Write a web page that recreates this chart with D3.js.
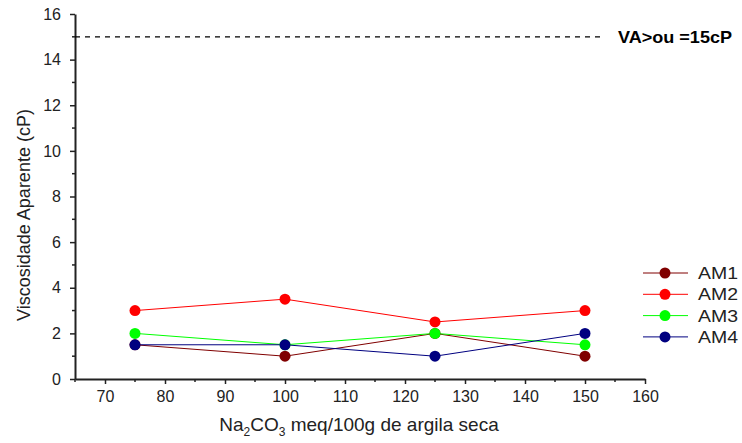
<!DOCTYPE html>
<html>
<head>
<meta charset="utf-8">
<script src="https://cdn.jsdelivr.net/npm/d3@7"></script>
<style>
  body { margin: 0; background: #fff; }
  svg { font-family: "Liberation Sans", Arial, sans-serif; }
</style>
</head>
<body>
<div id="chart"></div>
<script>
// ── Data ────────────────────────────────────────────
var xValues = [75, 100, 125, 150];
var seriesNames = ["AM1", "AM2", "AM3", "AM4"];
var seriesColors = ["#800000", "#ff0000", "#00ff00", "#000080"];
var am1 = [1.5, 1, 2, 1];
var am2 = [3, 3.5, 2.5, 3];
var am3 = [2, 1.5, 2, 1.5];
var am4 = [1.5, 1.5, 1, 2];
var seriesValues = [am1, am2, am3, am4];
var xTicks = [70, 80, 90, 100, 110, 120, 130, 140, 150, 160];
var yTicks = [0, 2, 4, 6, 8, 10, 12, 14, 16];
var limitValue = 15;
var limitLabel = "VA>ou =15cP";

var width = 742, height = 443;
var svg = d3.select("#chart").append("svg")
  .attr("width", width).attr("height", height);

var x = d3.scaleLinear().domain([65, 160]).range([75, 645]);
var y = d3.scaleLinear().domain([0, 16]).range([379, 14]);

var axisColor = "#222";

// X axis
var xAxis = svg.append("g")
  .attr("transform", "translate(0," + y(0) + ")")
  .call(d3.axisBottom(x).tickValues(xTicks).tickSize(5).tickSizeOuter(0).tickFormat(d3.format("d")));
xAxis.select(".domain").attr("stroke", axisColor).attr("stroke-width", 2);
xAxis.selectAll(".tick line").attr("stroke", axisColor).attr("stroke-width", 1.5);
xAxis.selectAll("text").attr("font-size", 16).attr("fill", "#222")
  .attr("y", 23).attr("dy", null);
// minor x ticks
svg.append("g").selectAll("line")
  .data(d3.range(65, 160, 10))
  .join("line")
  .attr("x1", function (d) { return x(d); })
  .attr("x2", function (d) { return x(d); })
  .attr("y1", y(0)).attr("y2", y(0) + 3)
  .attr("stroke", axisColor).attr("stroke-width", 1.5);

// Y axis
var yAxis = svg.append("g")
  .attr("transform", "translate(" + x(65) + ",0)")
  .call(d3.axisLeft(y).tickValues(yTicks).tickSize(5).tickSizeOuter(0));
yAxis.select(".domain").attr("stroke", axisColor).attr("stroke-width", 2);
yAxis.selectAll(".tick line").attr("stroke", axisColor).attr("stroke-width", 1.5);
yAxis.selectAll("text").attr("font-size", 16).attr("fill", "#222").attr("x", -14);
// minor y ticks
svg.append("g").selectAll("line")
  .data(d3.range(1, 16, 2))
  .join("line")
  .attr("x1", x(65) - 3).attr("x2", x(65))
  .attr("y1", function (d) { return y(d); })
  .attr("y2", function (d) { return y(d); })
  .attr("stroke", axisColor).attr("stroke-width", 1.5);

// Limit line
svg.append("line")
  .attr("x1", x(65)).attr("x2", 605)
  .attr("y1", y(limitValue)).attr("y2", y(limitValue))
  .attr("stroke", "#000").attr("stroke-width", 1.3)
  .attr("stroke-dasharray", "5,5");
svg.append("text")
  .attr("x", 618).attr("y", y(limitValue) + 6)
  .attr("font-size", 17).attr("font-weight", "bold")
  .attr("textLength", 114).attr("lengthAdjust", "spacingAndGlyphs")
  .text(limitLabel);

// Series
var line = d3.line()
  .x(function (d, i) { return x(xValues[i]); })
  .y(function (d) { return y(d); });

seriesValues.forEach(function (vals, s) {
  svg.append("path")
    .attr("d", line(vals))
    .attr("fill", "none")
    .attr("stroke", seriesColors[s])
    .attr("stroke-width", 1);
});
seriesValues.forEach(function (vals, s) {
  svg.append("g").selectAll("circle")
    .data(vals)
    .join("circle")
    .attr("cx", function (d, i) { return x(xValues[i]); })
    .attr("cy", function (d) { return y(d); })
    .attr("r", 5.5)
    .attr("fill", seriesColors[s]);
});

// Axis labels
svg.append("text")
  .attr("transform", "translate(30,215) rotate(-90)")
  .attr("text-anchor", "middle")
  .attr("font-size", 18)
  .attr("fill", "#222")
  .text("Viscosidade Aparente (cP)");

var xl = svg.append("text")
  .attr("x", 359).attr("y", 431)
  .attr("text-anchor", "middle")
  .attr("font-size", 19)
  .attr("fill", "#222");
xl.append("tspan").text("Na");
xl.append("tspan").attr("font-size", 12).attr("dy", 5).text("2");
xl.append("tspan").attr("dy", -5).text("CO");
xl.append("tspan").attr("font-size", 12).attr("dy", 5).text("3");
xl.append("tspan").attr("dy", -5).text(" meq/100g de argila seca");

// Legend
var legend = svg.append("g").attr("transform", "translate(643,273)");
seriesNames.forEach(function (name, i) {
  var row = legend.append("g").attr("transform", "translate(0," + (i * 21.3) + ")");
  row.append("line").attr("x1", 0).attr("x2", 45).attr("y1", 0).attr("y2", 0)
    .attr("stroke", seriesColors[i]).attr("stroke-width", 1);
  row.append("circle").attr("cx", 22).attr("cy", 0).attr("r", 5.5).attr("fill", seriesColors[i]);
  row.append("text").attr("x", 55).attr("y", 6).attr("font-size", 17).attr("fill", "#222")
    .attr("textLength", 40).attr("lengthAdjust", "spacingAndGlyphs")
    .text(name);
});
</script>
</body>
</html>
